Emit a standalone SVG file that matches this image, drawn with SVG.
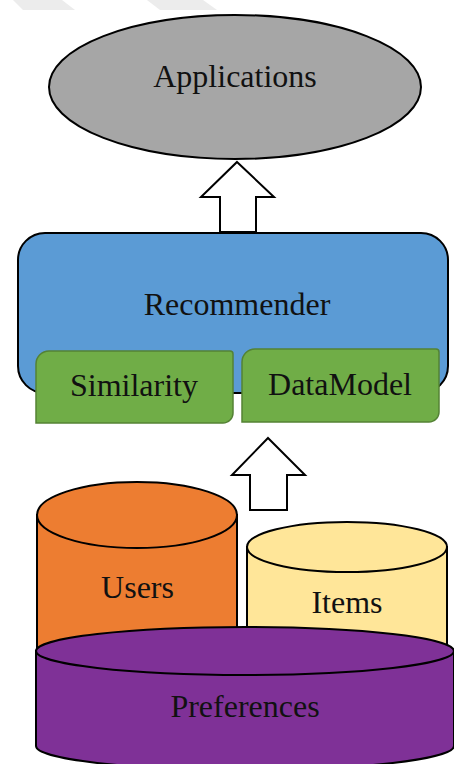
<svg xmlns="http://www.w3.org/2000/svg" width="454" height="764" viewBox="0 0 454 764">
  <defs>
    <style>
      .lbl { font-size: 32px; fill: #111; text-anchor: middle; }
      .edge { stroke: #000; stroke-width: 2; }
      .block { fill: #fff; stroke: #000; stroke-width: 2; stroke-linejoin: miter; }
      .module { fill: #70ad47; stroke: #548235; stroke-width: 1.5; }
    </style>
  </defs>
  <rect x="0" y="0" width="454" height="764" fill="#fff"/>

  <!-- faint banner stripes along the top edge -->
  <g fill="#ececec">
    <polygon points="13,0 62,0 75,10 23,10"/>
    <polygon points="147,0 203,0 217,10 160,10"/>
  </g>

  <g id="applications">
    <ellipse cx="235" cy="87" rx="186" ry="72" fill="#a6a6a6" class="edge"/>
    <text class="lbl" x="235" y="87" font-family="Liberation Serif, serif">Applications</text>
  </g>

  <g id="recommender">
    <rect x="18" y="233" width="430" height="160" rx="27" ry="27" fill="#5b9bd5" class="edge"/>
    <text class="lbl" x="237" y="315" font-family="Liberation Serif, serif">Recommender</text>
  </g>

  <g id="similarity">
    <path class="module" d="M36,423 L36,364 A13,13 0 0 1 49,351 L230,351 A3,3 0 0 1 233,354 L233,413 A10,10 0 0 1 223,423 Z"/>
    <text class="lbl" x="134" y="396" font-family="Liberation Serif, serif">Similarity</text>
  </g>

  <g id="datamodel">
    <path class="module" d="M242,422 L242,362 A13,13 0 0 1 255,349 L436,349 A3,3 0 0 1 439,352 L439,412 A10,10 0 0 1 429,422 Z"/>
    <text class="lbl" x="340" y="395" font-family="Liberation Serif, serif">DataModel</text>
  </g>

  <g id="users">
    <path d="M37,515 L37,680 L237,680 L237,515 Z" fill="#ed7d31" class="edge"/>
    <ellipse cx="137" cy="515" rx="100" ry="33" fill="#ed7d31" class="edge"/>
    <text class="lbl" x="137.5" y="598" font-family="Liberation Serif, serif">Users</text>
  </g>

  <g id="items">
    <path d="M247,547 L247,680 L447,680 L447,547 Z" fill="#ffe699" class="edge"/>
    <ellipse cx="347" cy="547" rx="100" ry="25" fill="#ffe699" class="edge"/>
    <text class="lbl" x="347" y="613" font-family="Liberation Serif, serif">Items</text>
  </g>

  <g id="preferences">
    <path d="M36,651 L36,746 A209,24 0 0 0 454,746 L454,651 Z" fill="#7f3197" class="edge"/>
    <ellipse cx="245" cy="651" rx="209" ry="24" fill="#7f3197" class="edge"/>
    <text class="lbl" x="245" y="717" font-family="Liberation Serif, serif">Preferences</text>
  </g>

  <g id="connectors">
    <polygon class="block" points="237,162 274,197 256,197 256,232 220,232 220,197 201,197"/>
    <polygon class="block" points="268,438 305,475 287,475 287,510 250,510 250,475 232,475"/>
  </g>
</svg>
